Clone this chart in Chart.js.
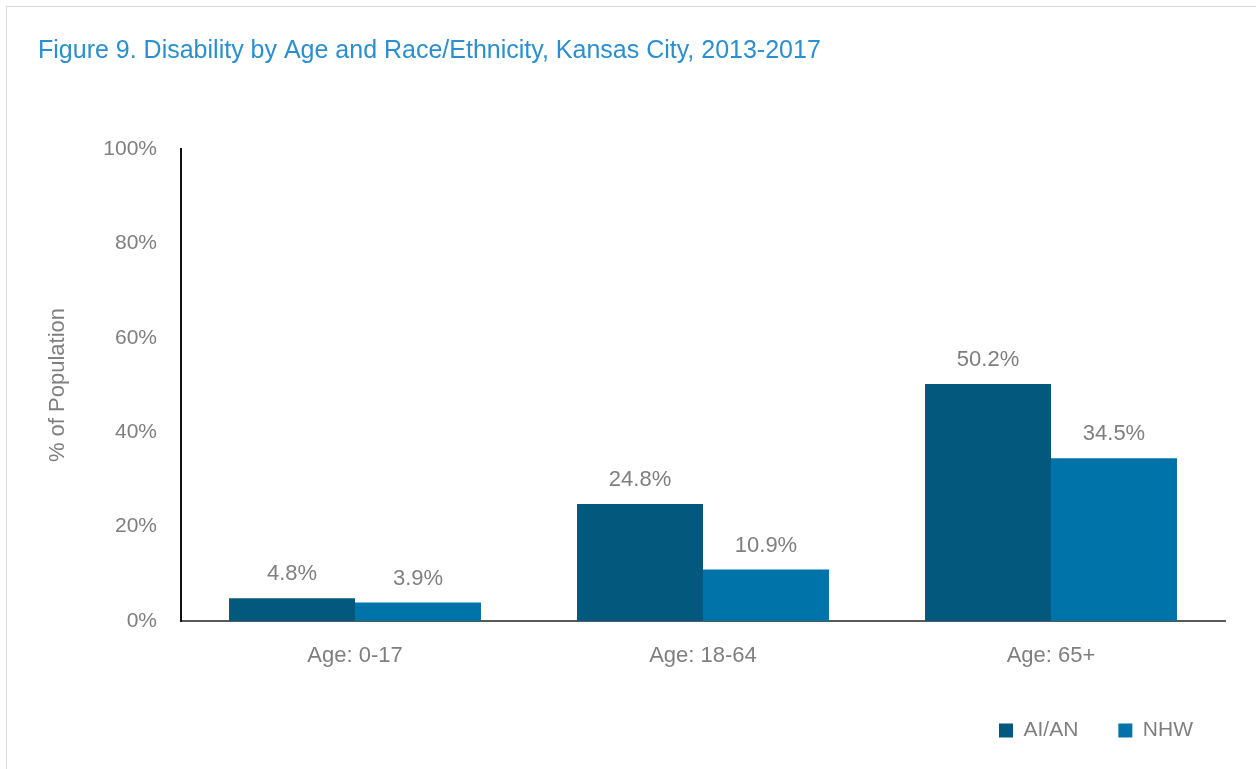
<!DOCTYPE html>
<html>
<head>
<meta charset="utf-8">
<script src="https://cdn.jsdelivr.net/npm/chart.js@4.4.1/dist/chart.umd.min.js"></script>
<style>
  html, body { margin: 0; padding: 0; background: #fff; }
  #wrap { position: relative; width: 1256px; height: 769px; overflow: hidden; }
  #frame { position: absolute; left: 6px; top: 6px; width: 1300px; height: 800px; border: 1px solid #d9d9d9; box-sizing: border-box; }
  canvas { position: absolute; left: 0; top: 0; }
</style>
</head>
<body>
<div id="wrap">
  <div id="frame"></div>
  <canvas id="c" width="1256" height="769"></canvas>
</div>
<script>
const categories = ["Age: 0-17", "Age: 18-64", "Age: 65+"];
const seriesNames = ["AI/AN", "NHW"];
const aianValues = [4.8, 24.8, 50.2];
const nhwValues = [3.9, 10.9, 34.5];
const yTicks = [0, 20, 40, 60, 80, 100];
const titleText = "Figure 9. Disability by Age and Race/Ethnicity, Kansas City, 2013-2017";
const yTitle = "% of Population";

const FONT = "'Liberation Sans', Arial, sans-serif";
const GREY = "#7f7f7f";

const dataLabels = {
  id: 'dataLabels',
  afterDatasetsDraw(chart) {
    const ctx = chart.ctx;
    ctx.save();
    ctx.font = "22px " + FONT;
    ctx.fillStyle = GREY;
    ctx.textAlign = 'center';
    ctx.textBaseline = 'alphabetic';
    chart.data.datasets.forEach((ds, i) => {
      const meta = chart.getDatasetMeta(i);
      meta.data.forEach((bar, j) => {
        ctx.fillText(ds.data[j].toFixed(1) + '%', bar.x, bar.y - 18);
      });
    });
    ctx.restore();
  }
};

new Chart(document.getElementById('c'), {
  type: 'bar',
  data: {
    labels: categories,
    datasets: [
      { label: seriesNames[0], data: aianValues, backgroundColor: '#03587e', categoryPercentage: 0.724, barPercentage: 1.0 },
      { label: seriesNames[1], data: nhwValues, backgroundColor: '#0074a8', categoryPercentage: 0.724, barPercentage: 1.0 }
    ]
  },
  options: {
    responsive: false,
    animation: false,
    devicePixelRatio: 1,
    layout: { padding: { left: 38, right: 23, top: 36, bottom: 18 } },
    plugins: {
      title: {
        display: true, text: titleText, align: 'start', color: '#2a8fd0',
        font: { family: FONT, size: 25, weight: 'normal' },
        padding: { top: 0, bottom: 83 }
      },
      legend: {
        display: true, position: 'bottom', align: 'end',
        labels: {
          boxWidth: 14, boxHeight: 14, padding: 40, color: GREY,
          font: { family: FONT, size: 21 }
        }
      },
      tooltip: { enabled: false }
    },
    scales: {
      x: {
        grid: { display: false, drawTicks: false },
        border: { display: true, color: '#595959', width: 2 },
        ticks: { color: GREY, font: { family: FONT, size: 22 }, padding: 22 },
        afterFit(s) { s.height = 59; }
      },
      y: {
        min: 0, max: 100,
        afterBuildTicks(s) { s.ticks = yTicks.map(v => ({ value: v })); },
        grid: { display: false, drawTicks: false },
        border: { display: true, color: '#111', width: 2 },
        ticks: { color: GREY, font: { family: FONT, size: 21 }, padding: 24, callback: v => v + '%' },
        title: { display: true, text: yTitle, color: GREY, font: { family: FONT, size: 22 }, padding: { top: 7, bottom: 0 } },
        afterFit(s) { s.width = 143; }
      },
      yRight: {
        position: 'right', min: 0, max: 100,
        grid: { display: false, drawTicks: false },
        border: { display: false },
        ticks: { display: false },
        afterFit(s) { s.width = 8; }
      }
    }
  },
  plugins: [dataLabels]
});
</script>
</body>
</html>
